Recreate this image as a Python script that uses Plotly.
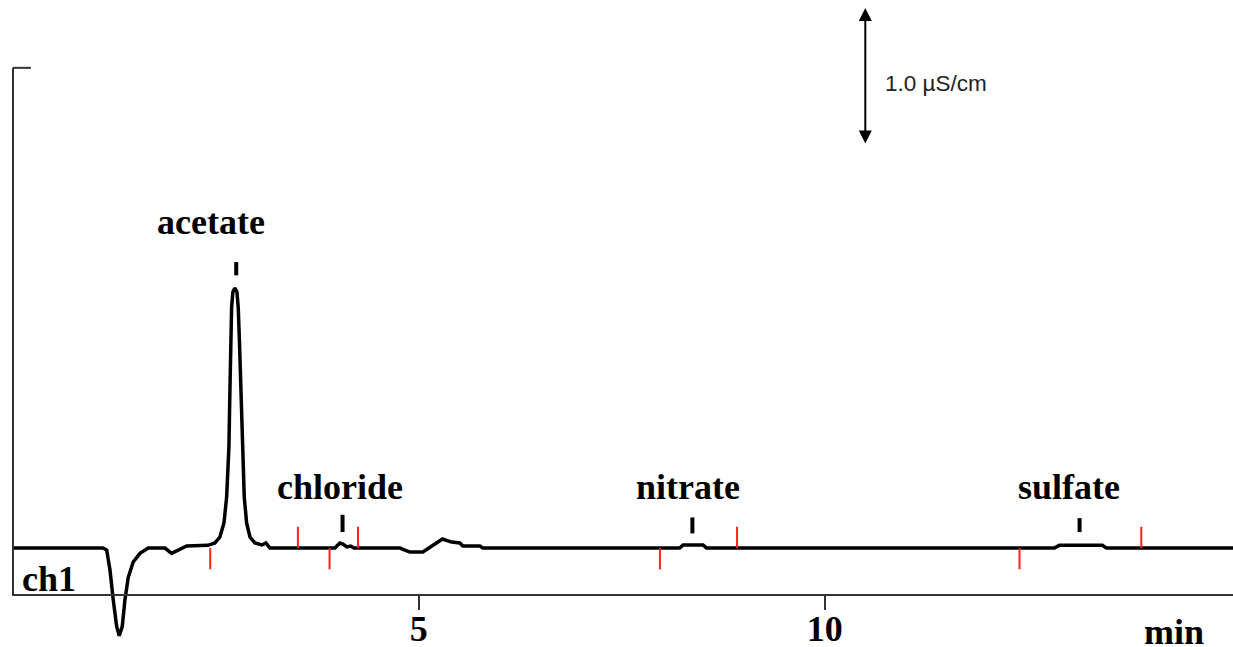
import plotly.graph_objects as go

# Chromatogram trace (time in min, conductivity in µS/cm relative to baseline)
time_min = [0.0, 1.108, 1.154, 1.195, 1.235, 1.277, 1.309, 1.346, 1.379, 1.420, 1.481, 1.564, 1.666,
            1.872, 1.954, 2.032, 2.139, 2.401, 2.488, 2.549, 2.599, 2.632, 2.660, 2.672, 2.685, 2.693,
            2.709, 2.734, 2.759, 2.775, 2.790, 2.808, 2.824, 2.849, 2.878, 2.919, 2.980, 3.066, 3.116,
            3.165, 3.966, 4.027, 4.064, 4.113, 4.159, 4.200, 4.766, 4.889, 5.049, 5.172, 5.292, 5.403,
            5.505, 5.542, 5.751, 5.788, 8.214, 8.255, 8.501, 8.543, 12.83, 12.89, 13.42, 13.47, 15.03]
signal = [0.0, 0.0, -0.015, -0.165, -0.39, -0.59, -0.66, -0.59, -0.39, -0.22, -0.105, -0.04, 0.0,
          0.0, -0.04, -0.015, 0.015, 0.02, 0.038, 0.083, 0.188, 0.383, 0.759, 1.173, 1.549, 1.805,
          1.925, 1.955, 1.925, 1.805, 1.549, 1.173, 0.759, 0.383, 0.188, 0.083, 0.038, 0.023, 0.038,
          0.0, 0.0, 0.038, 0.03, 0.008, 0.015, 0.0, 0.0, -0.03, -0.03, 0.023, 0.068, 0.045,
          0.038, 0.015, 0.015, 0.0, 0.0, 0.023, 0.023, 0.0, 0.0, 0.02, 0.02, 0.0, 0.0]

# Peaks
peak_names = ["acetate", "chloride", "nitrate", "sulfate"]
peak_apex = [2.75, 4.06, 8.37, 13.14]
peak_start = [2.43, 3.90, 7.97, 12.40]
peak_end = [3.51, 4.25, 8.92, 13.90]

x_ticks = [5, 10]
x_tick_labels = ["5", "10"]

fig = go.Figure()

fig.add_trace(go.Scatter(x=time_min, y=signal, mode="lines",
                         line=dict(color="black", width=3.5, shape="linear"),
                         hoverinfo="skip", showlegend=False))

# red integration markers (start below baseline, end above)
rx, ry = [], []
for s in peak_start:
    rx += [s, s, None]
    ry += [0.0, -0.16, None]
for e in peak_end:
    rx += [e, e, None]
    ry += [0.0, 0.16, None]
fig.add_trace(go.Scatter(x=rx, y=ry, mode="lines", line=dict(color="#ff2020", width=2),
                         hoverinfo="skip", showlegend=False))

# black apex markers
apex_top = [2.15, 0.25, 0.23, 0.225]
apex_bot = [2.05, 0.12, 0.11, 0.12]
bx, by = [], []
for t, a, b in zip(peak_apex, apex_top, apex_bot):
    bx += [t, t, None]
    by += [b, a, None]
fig.add_trace(go.Scatter(x=bx, y=by, mode="lines", line=dict(color="black", width=4),
                         hoverinfo="skip", showlegend=False))

serif = dict(family="Liberation Serif", size=36, color="black", weight="bold")
label_x = [2.44, 4.03, 8.31, 13.01]
label_y = [2.45, 0.46, 0.46, 0.46]
for name, lx, ly in zip(peak_names, label_x, label_y):
    fig.add_annotation(x=lx, y=ly, text=name, showarrow=False, font=serif,
                       xanchor="center", yanchor="middle")

fig.add_annotation(x=0.09, y=-0.23, text="ch1", showarrow=False, font=serif,
                   xanchor="left", yanchor="middle")
fig.add_annotation(x=14.3, y=-0.63, text="min", showarrow=False, font=serif,
                   xanchor="center", yanchor="middle")

# scale bar
fig.add_annotation(x=10.5, y=4.06, ax=10.5, ay=3.03, axref="x", ayref="y", text="",
                   showarrow=True, arrowhead=2, arrowside="end+start", arrowsize=1.3,
                   arrowwidth=2, arrowcolor="black", standoff=0, startstandoff=0)
fig.add_annotation(x=10.72, y=3.49, text="1.0 µS/cm", showarrow=False,
                   font=dict(family="Liberation Sans", size=22.5, color="#222"),
                   xanchor="left", yanchor="middle")

# left axis line and its top tick
axc = "#333"
fig.add_shape(type="line", x0=0, x1=0, y0=-0.353, y1=3.61, xref="x", yref="y",
              line=dict(color=axc, width=2))
fig.add_shape(type="line", x0=0, x1=0.22, y0=3.61, y1=3.61, xref="x", yref="y",
              line=dict(color=axc, width=2))

fig.update_layout(
    width=1233, height=647,
    margin=dict(l=0, r=0, t=0, b=0),
    paper_bgcolor="white", plot_bgcolor="white",
    xaxis=dict(domain=[0.00973, 1], range=[-0.0123, 15.03], anchor="free", position=0.0804,
               automargin=False,
               showline=True, linecolor=axc, linewidth=2, showgrid=False, zeroline=False,
               ticks="outside", ticklen=14, tickwidth=2, tickcolor=axc, ticklabelstandoff=-12,
               tickvals=x_ticks, ticktext=x_tick_labels, tickfont=serif),
    yaxis=dict(range=[-0.744, 4.12], visible=False, showgrid=False, zeroline=False,
               automargin=False),
)

fig.write_html("out.html", config={"displayModeBar": False},
               post_script="document.body.style.margin='0';document.body.style.overflow='hidden';")
